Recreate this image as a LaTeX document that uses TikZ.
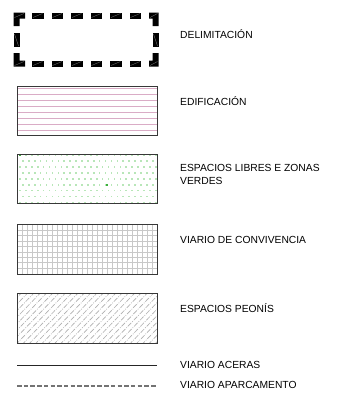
\documentclass[tikz,border=0pt]{standalone}
\usepackage{fontspec}
\setmainfont{Liberation Sans}
\definecolor{pinkl}{RGB}{218,172,198}
\definecolor{dotg}{RGB}{184,230,184}
\definecolor{dotd}{RGB}{60,175,60}
\definecolor{gridc}{RGB}{200,200,200}
\definecolor{hatchc}{RGB}{175,175,175}
\begin{document}
\begin{tikzpicture}[x=1pt,y=-1pt,
  lbl/.style={anchor=base west,inner sep=0pt,font=\fontsize{10.3}{12.5}\selectfont,text=black},
  frame/.style={draw=black!78,line width=0.9pt},
  delim/.style={fill=black},
  dline/.style={draw=black!55,line width=0.35pt}]
\useasboundingbox (0,0) rectangle (350,394);
\fill[white] (0,0) rectangle (350,394);

% ---------- DELIMITACION ----------
\foreach \x in {32,51.5,71,90.5,110,129.5}{
  \fill[delim] (\x,12.5) rectangle ++(11.5,6);
  \draw[dline] (\x+1,17.5) -- (\x+10.5,13.5);
  \fill[delim] (\x,60.5) rectangle ++(11.5,6);
  \draw[dline] (\x+1,65.5) -- (\x+10.5,61.5);
}
% corners
\fill[delim] (13.5,12.5) -- (25,12.5) -- (25,18.5) -- (19.5,18.5) -- (19.5,26) -- (13.5,26) -- cycle;
\fill[delim] (158.5,12.5) -- (149,12.5) -- (149,18.5) -- (152.5,18.5) -- (152.5,26) -- (158.5,26) -- cycle;
\fill[delim] (13.5,66.5) -- (25,66.5) -- (25,60.5) -- (19.5,60.5) -- (19.5,53) -- (13.5,53) -- cycle;
\fill[delim] (158.5,66.5) -- (149,66.5) -- (149,60.5) -- (152.5,60.5) -- (152.5,53) -- (158.5,53) -- cycle;
\draw[dline] (14.5,17.5) -- (24,13.5);
\draw[dline] (150,17.5) -- (157.5,13.5);
\draw[dline] (14.5,65.5) -- (24,61.5);
\draw[dline] (150,65.5) -- (157.5,61.5);
% side middle dashes
\fill[delim] (13.5,33) rectangle (19.5,47);
\draw[dline] (14.5,34) -- (18.5,46);
\fill[delim] (152.5,33) rectangle (158.5,47);
\draw[dline] (153.5,34) -- (157.5,46);
\node[lbl] (tdelim) at (180,38) {DELIMITACIÓN};

% ---------- EDIFICACION ----------
\foreach \i in {0,...,7}
  \draw[pinkl,line width=1.3pt] (17,88.3+6*\i) -- (157,88.3+6*\i);
\draw[frame] (17,86) rectangle (157,135);
\node[lbl] (tedif) at (180,105.5) {EDIFICACIÓN};

% ---------- ESPACIOS LIBRES ----------
\begin{scope}
\clip (17,154) rectangle (157,203);
\foreach \j in {0,...,8}
  \foreach \i in {0,...,23}
    \fill[dotg] ({20+5.9*\i+mod(\j,2)*2.95-0.8},{155.2+5.9*\j-0.8}) rectangle ++(1.6,1.6);
\fill[dotd] (19.2,154.4) rectangle ++(1.8,1.8);
\fill[dotd] (106.2,184.2) rectangle ++(1.8,1.8);
\end{scope}
\draw[frame] (17,154) rectangle (157,203);
\node[lbl] (tlib) at (180,171.5) {ESPACIOS LIBRES E ZONAS};
\node[lbl] (tver) at (180,184) {VERDES};

% ---------- VIARIO DE CONVIVENCIA ----------
\foreach \k in {1,...,27}
  \draw[gridc,line width=0.9pt] (17+5.03*\k,224.7) -- (17+5.03*\k,274);
\foreach \k in {1,...,8}
  \draw[gridc,line width=0.9pt] (17,224.7+5.45*\k) -- (157,224.7+5.45*\k);
\draw[frame] (17,224.7) rectangle (157,274);
\node[lbl] (tconv) at (180,243.5) {VIARIO DE CONVIVENCIA};

% ---------- ESPACIOS PEONIS ----------
\begin{scope}
\clip (17,293) rectangle (157,343);
\foreach \k in {0,...,32}
  \draw[hatchc,line width=0.65pt,dash pattern=on 5pt off 1.4pt on 0.8pt off 1.4pt]
    (-35+6.3*\k,345) -- (17+6.3*\k,291);
\end{scope}
\draw[frame] (17,293) rectangle (157,343);
\node[lbl] (tpeo) at (180,312) {ESPACIOS PEONÍS};

% ---------- VIARIO ACERAS / APARCAMENTO ----------
\coordinate (a1) at (17,365.3);
\coordinate (a2) at (157,365.3);
\draw[black!85,line width=0.9pt] (a1) -- (a2);
\node[lbl] (tace) at (180,368) {VIARIO ACERAS};
\coordinate (p1) at (17,386);
\coordinate (p2) at (157,386);
\draw[black!55,line width=1.1pt,dash pattern=on 4.5pt off 2.2pt] (p1) -- (p2);
\node[lbl] (tapa) at (180,388.5) {VIARIO APARCAMENTO};
\end{tikzpicture}
\end{document}
